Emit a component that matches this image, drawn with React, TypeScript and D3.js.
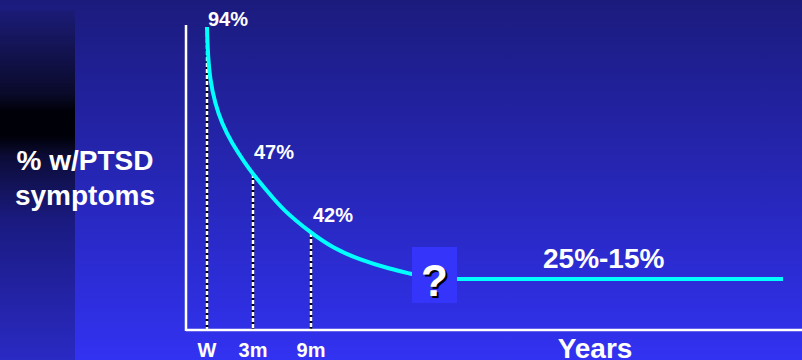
import React from "react";
import * as d3 from "d3";

// Follow-up time points (months since the event) and share of people with PTSD symptoms
const tickMonths = [0, 3, 9];
const tickLabels = ["W", "3m", "9m"];
const pointValues = [94, 47, 42];
const pointLabels = ["94%", "47%", "42%"];

// Decay curve samples: months and percent
const curveMonths = [0, 0.05, 0.2, 0.52, 0.96, 1.61, 2.48, 3, 4.42, 6.1, 9, 10.96, 13.37, 16.04, 18, 20];
const curvePercent = [94, 85.7, 77.1, 69.7, 63.3, 56.9, 50.5, 47, 45.6, 43.95, 42, 34.8, 29.1, 24.8, 22.4, 21.5];

// Long-term plateau (years later): reported range 25%-15%, drawn at its midpoint
const plateauMonths = [30, 120];
const plateauPercent = [20, 20];
const plateauLabel = "25%-15%";

// Unknown interval between the short-term follow-ups and the long-term plateau
const unknownSpan = [18, 30];

const W = 802;
const H = 360;
const FONT = "Arial, 'Liberation Sans', Helvetica, sans-serif";

// Schematic (piecewise) scales: the time axis is compressed for later years
const x = d3.scaleLinear().domain([0, 3, 9, 18, 30, 120]).range([207, 253, 311, 412, 457, 783]);
const y = d3.scaleLinear().domain([0, 20, 42, 47, 94]).range([330, 279, 233, 174, 27]);

const axisX0 = 186;
const axisY = 330;
const axisTop = 25;

export default function App() {
  const curve = d3
    .line<number>()
    .x((_, i) => x(curveMonths[i]))
    .y((d) => y(d))
    .curve(d3.curveBasis)(curvePercent) as string;

  const plateau = d3
    .line<number>()
    .x((_, i) => x(plateauMonths[i]))
    .y((d) => y(d))(plateauPercent) as string;

  const labelOffsets = [
    { dx: 1, dy: -1 },
    { dx: 1, dy: -15 },
    { dx: 2, dy: -11 },
  ];

  return (
    <div style={{ position: "fixed", left: 0, top: 0, width: W, height: H }}>
      <svg width={W} height={H} style={{ display: "block" }}>
        <defs>
          <linearGradient id="bg" x1="0" y1="0" x2="0" y2="1">
            <stop offset="0" stopColor="#1b1b7d" />
            <stop offset="0.5" stopColor="#2626b6" />
            <stop offset="1" stopColor="#3232f2" />
          </linearGradient>
          <linearGradient id="strip" x1="0" y1="0" x2="0" y2="1">
            <stop offset="0" stopColor="#1b1b78" />
            <stop offset="0.1" stopColor="#141456" />
            <stop offset="0.24" stopColor="#0a0a2a" />
            <stop offset="0.29" stopColor="#000008" />
            <stop offset="0.36" stopColor="#000008" />
            <stop offset="0.42" stopColor="#0c0c38" />
            <stop offset="0.6" stopColor="#1a1a80" />
            <stop offset="1" stopColor="#2a2ac4" />
          </linearGradient>
        </defs>

        <rect x={0} y={0} width={W} height={H} fill="url(#bg)" />
        <rect x={0} y={10} width={75} height={H - 10} fill="url(#strip)" />

        {/* Y axis title */}
        <text x={85} y={170} textAnchor="middle" fill="#ffffff" fontFamily={FONT} fontWeight="bold" fontSize={28}>
          % w/PTSD
        </text>
        <text x={85} y={205} textAnchor="middle" fill="#ffffff" fontFamily={FONT} fontWeight="bold" fontSize={28}>
          symptoms
        </text>

        {/* Drop lines from each follow-up point to the time axis */}
        {tickMonths.map((m, i) => (
          <g key={`drop-${i}`}>
            <line x1={x(m)} x2={x(m)} y1={y(pointValues[i])} y2={axisY} stroke="#000000" strokeWidth={2.5} />
            <line
              x1={x(m)}
              x2={x(m)}
              y1={y(pointValues[i])}
              y2={axisY}
              stroke="#ffffff"
              strokeWidth={2.5}
              strokeDasharray="4 2"
            />
          </g>
        ))}

        {/* Axes */}
        <line x1={axisX0} x2={axisX0} y1={axisTop} y2={axisY + 1} stroke="#ffffff" strokeWidth={2.5} />
        <line x1={axisX0} x2={W} y1={axisY} y2={axisY} stroke="#ffffff" strokeWidth={2.5} />

        {/* Decay curve and plateau */}
        <path d={curve} fill="none" stroke="#00ffff" strokeWidth={4} />
        <path d={plateau} fill="none" stroke="#00ffff" strokeWidth={4} />

        {/* Unknown interval */}
        <rect
          x={x(unknownSpan[0])}
          y={247}
          width={x(unknownSpan[1]) - x(unknownSpan[0])}
          height={56}
          fill="#3434fb"
        />
        <text
          x={(x(unknownSpan[0]) + x(unknownSpan[1])) / 2 + 2}
          y={298}
          textAnchor="middle"
          fill="#000000"
          fontFamily={FONT}
          fontWeight="bold"
          fontSize={44}
        >
          ?
        </text>
        <text
          x={(x(unknownSpan[0]) + x(unknownSpan[1])) / 2}
          y={296}
          textAnchor="middle"
          fill="#ffffff"
          fontFamily={FONT}
          fontWeight="bold"
          fontSize={44}
        >
          ?
        </text>

        {/* Point value labels */}
        {pointLabels.map((t, i) => (
          <text
            key={`pl-${i}`}
            x={x(tickMonths[i]) + labelOffsets[i].dx}
            y={y(pointValues[i]) + labelOffsets[i].dy}
            fill="#ffffff"
            fontFamily={FONT}
            fontWeight="bold"
            fontSize={20}
          >
            {t}
          </text>
        ))}
        <text x={543} y={y(plateauPercent[0]) - 11} fill="#ffffff" fontFamily={FONT} fontWeight="bold" fontSize={28}>
          {plateauLabel}
        </text>

        {/* Time axis labels */}
        {tickLabels.map((t, i) => (
          <text
            key={`tl-${i}`}
            x={x(tickMonths[i])}
            y={357}
            textAnchor="middle"
            fill="#ffffff"
            fontFamily={FONT}
            fontWeight="bold"
            fontSize={20}
          >
            {t}
          </text>
        ))}
        <text x={595} y={358} textAnchor="middle" fill="#ffffff" fontFamily={FONT} fontWeight="bold" fontSize={28}>
          Years
        </text>
      </svg>
    </div>
  );
}
